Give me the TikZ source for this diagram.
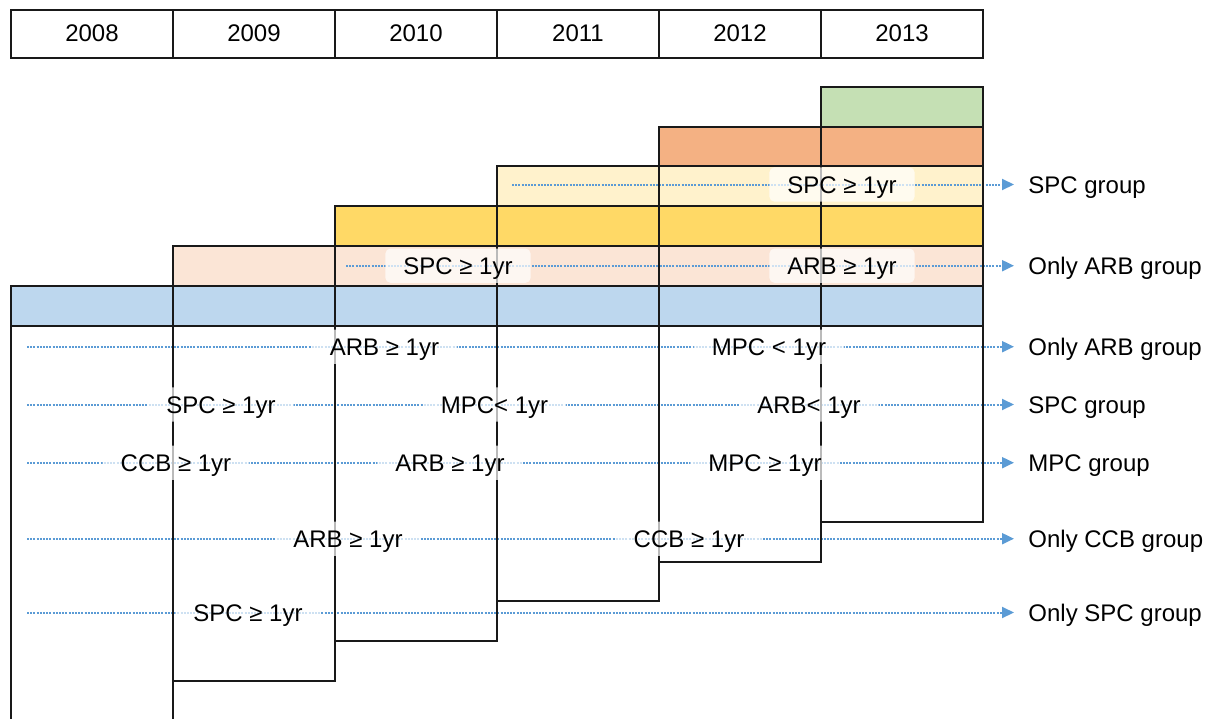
\documentclass[tikz,border=0pt]{standalone}
\usepackage{fontspec}
\setmainfont{Liberation Sans}
\usepackage{tikz}
\usetikzlibrary{arrows.meta}
\definecolor{cblue}{HTML}{BDD7EE}
\definecolor{cpeach}{HTML}{FBE5D6}
\definecolor{cyellow}{HTML}{FFD966}
\definecolor{clight}{HTML}{FFF2CC}
\definecolor{corange}{HTML}{F4B183}
\definecolor{cgreen}{HTML}{C5E0B4}
\definecolor{flowblue}{HTML}{5B9BD5}
\tikzset{font=\fontsize{12}{14}\selectfont}
\tikzset{edge/.style={line width=1pt, draw=black!90}}
\tikzset{yearbox/.style={edge, minimum width=81pt, minimum height=24pt, inner sep=0pt}}
\tikzset{cond/.style={fill=white, fill opacity=0.7, text opacity=1, rounded corners=2.5pt,
    inner xsep=9pt, inner ysep=4.25pt, text height=8.6pt, text depth=0pt}}
\tikzset{grp/.style={anchor=west, inner xsep=7pt, text height=8.6pt, text depth=0pt}}
\tikzset{flow/.style={draw=flowblue, line width=1pt, dash pattern=on 1pt off 0.6pt,
    -{Triangle[length=6pt,width=5.5pt]}}}

\begin{document}
\begin{tikzpicture}[x=0.5pt, y=-0.5pt]
  \useasboundingbox (0,0) rectangle (1216,718);
  \clip (0,0) rectangle (1216,718);

  % years
  \foreach \yr [count=\i from 0] in {2008,...,2013}
    \node[yearbox] (y\yr) at (92+162*\i, 33.5) {\yr};

  % coloured bars, one per start year
  \foreach \i/\c in {0/cblue, 1/cpeach, 2/cyellow, 3/clight, 4/corange, 5/cgreen}
    \draw[edge, fill=\c] (11+162*\i, 285.8-39.8*\i) rectangle (983, 325.6-39.8*\i);

  % flows to the groups
  \foreach \x/\y/\t [count=\k] in {512/184.5/SPC group, 346/265.7/Only ARB group,
      27/346.7/Only ARB group, 27/404.5/SPC group, 27/462.7/MPC group,
      27/538.7/Only CCB group, 27/612.5/Only SPC group}{
    \coordinate (r\k) at (\x,\y);
    \node[grp] (g\k) at (1014,\y) {\t};
    \draw[flow] (r\k) -- (g\k.west);
  }

  % columns
  \foreach \i/\b in {0/740, 1/681, 2/641, 3/601.2, 4/561.6, 5/522.4}
    \draw[edge] (11+162*\i, 285.8-39.8*\i) rectangle (173+162*\i, \b);

  % conditions
  \foreach \x/\y/\t [count=\k] in {842/184.5/SPC ≥ 1yr, 458/265.7/SPC ≥ 1yr,
      842/265.7/ARB ≥ 1yr, 384.5/346.7/ARB ≥ 1yr, 769/346.7/MPC < 1yr,
      221/404.5/SPC ≥ 1yr, 494.5/404.5/MPC< 1yr, 809/404.5/ARB< 1yr,
      176/462.7/CCB ≥ 1yr, 450/462.7/ARB ≥ 1yr, 765/462.7/MPC ≥ 1yr,
      348/538.7/ARB ≥ 1yr, 689/538.7/CCB ≥ 1yr, 248/612.5/SPC ≥ 1yr}
    \node[cond] (c\k) at (\x,\y) {\t};
\end{tikzpicture}
\end{document}
